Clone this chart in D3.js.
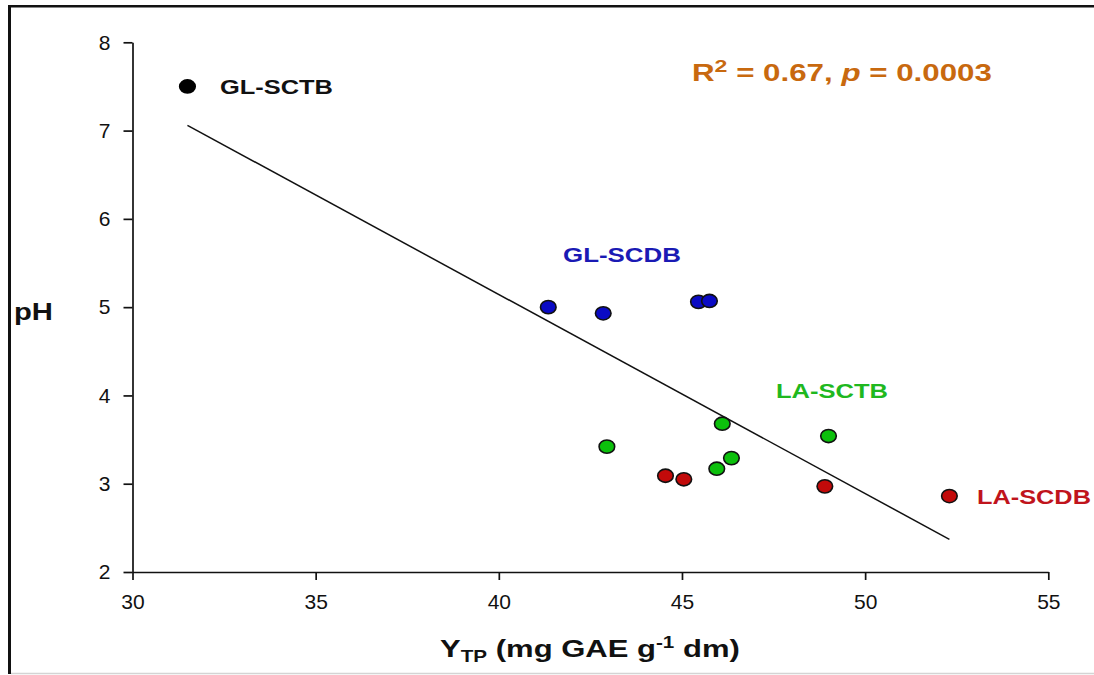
<!DOCTYPE html>
<html>
<head>
<meta charset="utf-8">
<script src="https://cdn.jsdelivr.net/npm/d3@7"></script>
<style>
  html, body { margin: 0; padding: 0; background: #fff; }
  svg { display: block; }
  text { font-family: "Liberation Sans", Arial, sans-serif; }
</style>
</head>
<body>
<svg id="chart" width="1094" height="675"></svg>
<script>
// ---- data ----
const xTicks = [30, 35, 40, 45, 50, 55];
const yTicks = [2, 3, 4, 5, 6, 7, 8];

const glSctbX = [31.5];
const glSctbY = [7.5];
const glScdbX = [41.35, 42.85, 45.45, 45.75];
const glScdbY = [5.00, 4.93, 5.06, 5.07];
const laSctbX = [42.95, 46.1, 46.35, 45.95, 49.0];
const laSctbY = [3.42, 3.68, 3.29, 3.17, 3.54];
const laScdbX = [44.55, 45.05, 48.9, 52.3];
const laScdbY = [3.09, 3.05, 2.97, 2.86];

const fitX = [31.5, 52.3];
const fitY = [7.06, 2.37];

const groupNames = ["GL-SCTB", "GL-SCDB", "LA-SCTB", "LA-SCDB"];

// ---- layout ----
const svg = d3.select("#chart");
const W = 1094, H = 675;
const x0 = 132.5, x1 = 1048.3, yTop = 42.3, yBot = 572;

const x = d3.scaleLinear().domain([30, 55]).range([x0, x1]);
const y = d3.scaleLinear().domain([2, 8]).range([yBot, yTop]);

// frame
svg.append("line").attr("x1", 8).attr("x2", W).attr("y1", 6.2).attr("y2", 6.2)
  .attr("stroke", "#111").attr("stroke-width", 2.6);
svg.append("line").attr("x1", 9.5).attr("x2", 9.5).attr("y1", 5).attr("y2", H - 1)
  .attr("stroke", "#111").attr("stroke-width", 3);
svg.append("line").attr("x1", 11).attr("x2", W).attr("y1", 673.5).attr("y2", 673.5)
  .attr("stroke", "#d4d4d4").attr("stroke-width", 1.5);

// axes
const font = '"Liberation Sans", Arial, sans-serif';
const gx = svg.append("g").attr("transform", `translate(0,${yBot})`)
  .call(d3.axisBottom(x).tickValues(xTicks).tickFormat(d3.format("d"))
    .tickSize(8).tickPadding(14).tickSizeOuter(0));
const gy = svg.append("g").attr("transform", `translate(${x0},0)`)
  .call(d3.axisLeft(y).tickValues(yTicks).tickFormat(d3.format("d"))
    .tickSize(9).tickPadding(13).tickSizeOuter(0));
[gx, gy].forEach(g => {
  g.select(".domain").attr("stroke", "#111").attr("stroke-width", 1.7);
  g.selectAll(".tick line").attr("stroke", "#111").attr("stroke-width", 1.7);
  g.selectAll(".tick text").attr("fill", "#111").style("font-family", font).style("font-size", "21px");
});

// helper to fit text horizontally to a measured width
function fitText(build, xLeft, yBase, width) {
  const g = svg.append("g");
  const t = g.append("text").attr("x", 0).attr("y", 0).style("font-family", font);
  build(t);
  const bb = t.node().getBBox();
  const sx = width / bb.width;
  g.attr("transform", `translate(${xLeft - bb.x * sx},${yBase}) scale(${sx},1)`);
  return g;
}

// regression line
svg.append("path")
  .datum(fitX.map((v, i) => [v, fitY[i]]))
  .attr("d", d3.line().x(d => x(d[0])).y(d => y(d[1])))
  .attr("fill", "none").attr("stroke", "#111").attr("stroke-width", 1.5);

// points
const groups = [
  { xs: glSctbX, ys: glSctbY, fill: "#000000", stroke: "#000000" },
  { xs: glScdbX, ys: glScdbY, fill: "#0a0ac4", stroke: "#111" },
  { xs: laSctbX, ys: laSctbY, fill: "#0cc00c", stroke: "#111" },
  { xs: laScdbX, ys: laScdbY, fill: "#c20a0a", stroke: "#111" }
];
groups.forEach(gr => {
  svg.append("g").selectAll("ellipse")
    .data(gr.xs.map((v, i) => [v, gr.ys[i]]))
    .join("ellipse")
    .attr("cx", d => x(d[0])).attr("cy", d => y(d[1]))
    .attr("rx", 7.8).attr("ry", 6.6)
    .attr("fill", gr.fill).attr("stroke", gr.stroke).attr("stroke-width", 1.6);
});

// group labels
const labelSpecs = [
  { name: groupNames[0], color: "#111111", xl: 220, yb: 93.5, w: 113, fs: 20 },
  { name: groupNames[1], color: "#1a1ab4", xl: 563, yb: 262, w: 118, fs: 20 },
  { name: groupNames[2], color: "#1fb81f", xl: 776, yb: 398, w: 112, fs: 20 },
  { name: groupNames[3], color: "#c0141c", xl: 977, yb: 503.5, w: 114, fs: 20 }
];
labelSpecs.forEach(s => {
  fitText(t => t.text(s.name).attr("fill", s.color).style("font-weight", "bold").style("font-size", s.fs + "px"),
    s.xl, s.yb, s.w);
});

// stats annotation
fitText(t => {
  t.attr("fill", "#c8690f").style("font-weight", "bold").style("font-size", "23px");
  t.append("tspan").text("R");
  t.append("tspan").text("2").style("font-size", "17px").attr("dy", "-9");
  t.append("tspan").text(" = 0.67, ").attr("dy", "9");
  t.append("tspan").text("p").style("font-style", "italic");
  t.append("tspan").text(" = 0.0003");
}, 692, 81, 300);

// y axis title
fitText(t => t.text("pH").attr("fill", "#111").style("font-weight", "bold").style("font-size", "23.5px"),
  14, 319.5, 39);

// x axis title
fitText(t => {
  t.attr("fill", "#111").style("font-weight", "bold").style("font-size", "24px");
  t.append("tspan").text("Y");
  t.append("tspan").text("TP").style("font-size", "16px").attr("dy", "5");
  t.append("tspan").text(" (mg GAE g").attr("dy", "-5");
  t.append("tspan").text("-1").style("font-size", "16px").attr("dy", "-9");
  t.append("tspan").text(" dm)").attr("dy", "9");
}, 440, 657, 300);
</script>
</body>
</html>
